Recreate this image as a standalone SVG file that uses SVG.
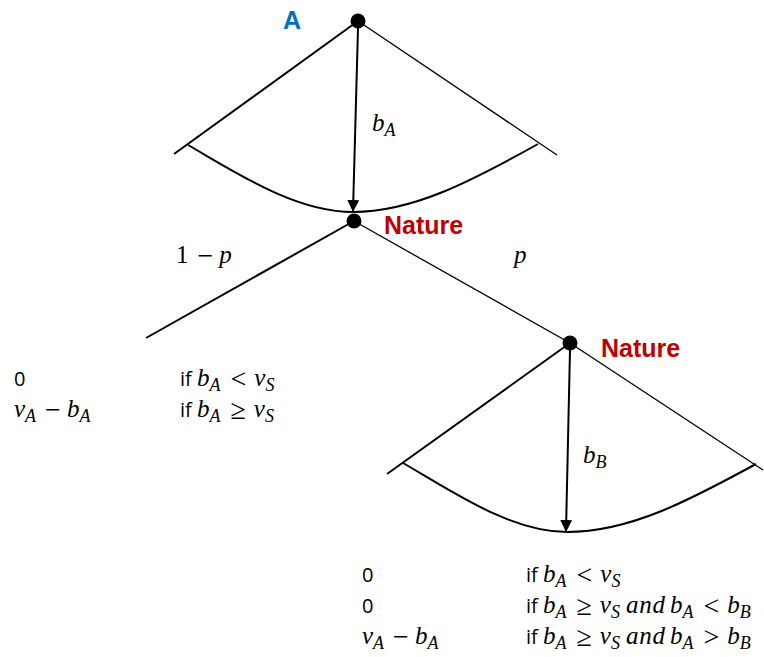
<svg xmlns="http://www.w3.org/2000/svg" width="764" height="657" viewBox="0 0 764 657">
<style>
.ln{stroke:#000;stroke-width:2;fill:none}
.thin{stroke:#000;stroke-width:1.3;fill:none}
.dot{fill:#000}
.lbl{font-family:"Liberation Sans",Arial,sans-serif;font-weight:bold}
.sans{font-family:"Open Sans","Liberation Sans",sans-serif;font-size:20px;fill:#000}
.m{font-family:"Liberation Serif","DejaVu Serif",serif;font-style:italic;font-size:25px}
.r{font-family:"Liberation Serif","DejaVu Serif",serif;font-size:25px}
.op{font-family:"Liberation Serif","DejaVu Serif",serif;font-size:28px}
.and{font-family:"Liberation Serif","DejaVu Serif",serif;font-style:italic;font-size:25px;letter-spacing:0.8px}
.s{font-family:"Liberation Serif","DejaVu Serif",serif;font-style:italic;font-size:18px}
</style>
<defs>
<marker id="ah" markerWidth="12" markerHeight="12" refX="11" refY="6" orient="auto" markerUnits="userSpaceOnUse">
<path d="M0,0 L12,6 L0,12 z" fill="#000"/>
</marker>
</defs>
<g id="connectors">
<line class="ln" x1="358" y1="21" x2="174" y2="154"/>
<line class="thin" x1="358" y1="21" x2="557" y2="155"/>
<path class="ln" d="M188,145 C235,172 295,212 353,212 C412,212 470,182 538,144"/>
<line class="ln" x1="358" y1="28" x2="353" y2="211" marker-end="url(#ah)"/>
<line class="ln" x1="354" y1="221" x2="146" y2="338"/>
<line class="thin" x1="354" y1="221" x2="570" y2="343"/>
<line class="ln" x1="570" y1="343" x2="387" y2="474"/>
<line class="thin" x1="570" y1="343" x2="763" y2="470"/>
<path class="ln" d="M403,463 C450,490 510,532 567,532 C630,532 690,500 756,464"/>
<line class="ln" x1="570" y1="350" x2="566" y2="531" marker-end="url(#ah)"/>
</g>
<g id="node-A">
<circle class="dot" cx="358" cy="21" r="7.5"/>
<text class="lbl" x="283" y="29" font-size="25" fill="#0070C0">A</text>
</g>
<g id="label-bA">
<text x="372" y="131"><tspan class="m">b</tspan><tspan class="s" dy="5">A</tspan></text>
</g>
<g id="node-nature1">
<circle class="dot" cx="354" cy="221" r="7.5"/>
<text class="lbl" x="384" y="234" font-size="25" fill="#C00000">Nature</text>
</g>
<g id="label-1-p">
<text x="176" y="263"><tspan class="r">1</tspan><tspan class="op" dx="9" dy="2">−</tspan><tspan class="m" dx="6" dy="-2">p</tspan></text>
</g>
<g id="label-p">
<text x="514" y="263"><tspan class="m">p</tspan></text>
</g>
<g id="node-nature2">
<circle class="dot" cx="570" cy="343" r="7.5"/>
<text class="lbl" x="601" y="357" font-size="25" fill="#C00000">Nature</text>
</g>
<g id="label-bB">
<text x="583" y="463"><tspan class="m">b</tspan><tspan class="s" dy="5">B</tspan></text>
</g>
<g id="payoff-left">
<text class="sans" x="14" y="386">0</text>
<text x="14" y="417"><tspan class="m">v</tspan><tspan class="s" dy="5">A</tspan><tspan class="op" dy="-3" dx="9">−</tspan><tspan class="m" dx="6" dy="-2">b</tspan><tspan class="s" dy="5">A</tspan></text>
<text x="180" y="386"><tspan class="sans">if </tspan><tspan class="m">b</tspan><tspan class="s" dy="5">A</tspan><tspan class="op" dy="-3" dx="10">&lt;</tspan><tspan class="m" dx="8" dy="-2">v</tspan><tspan class="s" dy="5">S</tspan></text>
<text x="180" y="417"><tspan class="sans">if </tspan><tspan class="m">b</tspan><tspan class="s" dy="5">A</tspan><tspan class="op" dy="-3" dx="10">≥</tspan><tspan class="m" dx="8" dy="-2">v</tspan><tspan class="s" dy="5">S</tspan></text>
</g>
<g id="payoff-right">
<text class="sans" x="362" y="582">0</text>
<text class="sans" x="362" y="613">0</text>
<text x="362" y="644"><tspan class="m">v</tspan><tspan class="s" dy="5">A</tspan><tspan class="op" dy="-3" dx="9">−</tspan><tspan class="m" dx="6" dy="-2">b</tspan><tspan class="s" dy="5">A</tspan></text>
<text x="526" y="582"><tspan class="sans">if </tspan><tspan class="m">b</tspan><tspan class="s" dy="5">A</tspan><tspan class="op" dy="-3" dx="10">&lt;</tspan><tspan class="m" dx="8" dy="-2">v</tspan><tspan class="s" dy="5">S</tspan></text>
<text x="526" y="613"><tspan class="sans">if </tspan><tspan class="m">b</tspan><tspan class="s" dy="5">A</tspan><tspan class="op" dy="-3" dx="10">≥</tspan><tspan class="m" dx="8" dy="-2">v</tspan><tspan class="s" dy="5">S</tspan><tspan class="and" dy="-5" dx="6">and</tspan><tspan class="m" dx="4">b</tspan><tspan class="s" dy="5">A</tspan><tspan class="op" dy="-3" dx="10">&lt;</tspan><tspan class="m" dx="8" dy="-2">b</tspan><tspan class="s" dy="5">B</tspan></text>
<text x="526" y="644"><tspan class="sans">if </tspan><tspan class="m">b</tspan><tspan class="s" dy="5">A</tspan><tspan class="op" dy="-3" dx="10">≥</tspan><tspan class="m" dx="8" dy="-2">v</tspan><tspan class="s" dy="5">S</tspan><tspan class="and" dy="-5" dx="6">and</tspan><tspan class="m" dx="4">b</tspan><tspan class="s" dy="5">A</tspan><tspan class="op" dy="-3" dx="10">&gt;</tspan><tspan class="m" dx="8" dy="-2">b</tspan><tspan class="s" dy="5">B</tspan></text>
</g>
</svg>
